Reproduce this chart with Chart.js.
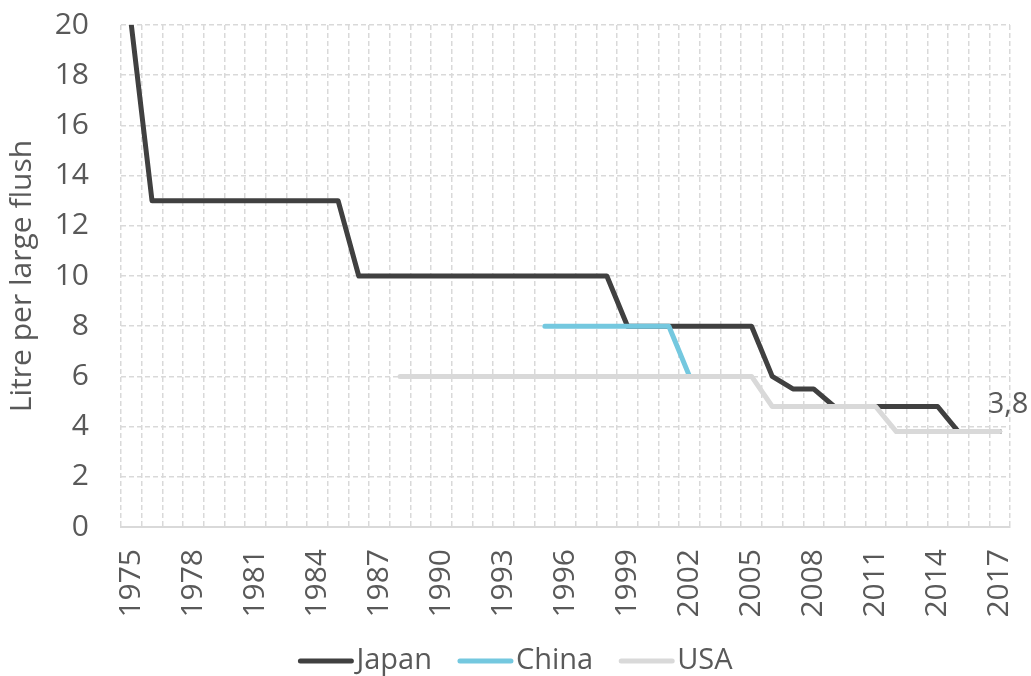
<!DOCTYPE html>
<html>
<head>
<meta charset="utf-8">
<script src="https://cdn.jsdelivr.net/npm/chart.js@4.4.0/dist/chart.umd.min.js"></script>
<style>
  html, body { margin: 0; padding: 0; background: #fff; }
  #wrap { width: 1031px; height: 676px; position: relative; }
</style>
</head>
<body>
<div id="wrap"><canvas id="flushChart"></canvas></div>
<script>
const years = [
  '1975', '1976', '1977', '1978', '1979', '1980', '1981', '1982', '1983', '1984',
  '1985', '1986', '1987', '1988', '1989', '1990', '1991', '1992', '1993', '1994',
  '1995', '1996', '1997', '1998', '1999', '2000', '2001', '2002', '2003', '2004',
  '2005', '2006', '2007', '2008', '2009', '2010', '2011', '2012', '2013', '2014',
  '2015', '2016', '2017'
];
const shownYears = ['1975', '1978', '1981', '1984', '1987', '1990', '1993', '1996',
  '1999', '2002', '2005', '2008', '2011', '2014', '2017'];

const japan = [
  20, 13, 13, 13, 13, 13, 13, 13, 13, 13,
  13, 10, 10, 10, 10, 10, 10, 10, 10, 10,
  10, 10, 10, 10, 8, 8, 8, 8, 8, 8,
  8, 6, 5.5, 5.5, 4.8, 4.8, 4.8, 4.8, 4.8, 4.8,
  3.8, 3.8, 3.8
];
const china = [
  null, null, null, null, null, null, null, null, null, null,
  null, null, null, null, null, null, null, null, null, null,
  8, 8, 8, 8, 8, 8, 8, 6, null, null,
  null, null, null, null, null, null, null, null, null, null,
  null, null, null
];
const usa = [
  null, null, null, null, null, null, null, null, null, null,
  null, null, null, 6, 6, 6, 6, 6, 6, 6,
  6, 6, 6, 6, 6, 6, 6, 6, 6, 6,
  6, 4.8, 4.8, 4.8, 4.8, 4.8, 4.8, 3.8, 3.8, 3.8,
  3.8, 3.8, 3.8
];
const seriesNames = ['Japan', 'China', 'USA'];
const seriesColors = ['#404040', '#74c8df', '#d9d9d9'];
const endLabel = '3,8';

const FONT = "'Open Sans', sans-serif";
const TEXT = '#595959';
const GRID = '#d9d9d9';

// value label next to the last USA point
const endLabelPlugin = {
  id: 'endLabel',
  afterDatasetsDraw(chart) {
    const meta = chart.getDatasetMeta(2);
    const pt = meta.data[meta.data.length - 1];
    const ctx = chart.ctx;
    ctx.save();
    ctx.font = '29px ' + FONT;
    ctx.fillStyle = TEXT;
    ctx.textAlign = 'left';
    ctx.textBaseline = 'middle';
    ctx.fillText(endLabel, pt.x - 12, pt.y - 27);
    ctx.restore();
  }
};

// legend row: short thick line followed closely by the name
const lineLegend = {
  id: 'lineLegend',
  afterDraw(chart) {
    const ctx = chart.ctx;
    ctx.save();
    ctx.font = '29px ' + FONT;
    ctx.textBaseline = 'middle';
    const lineLen = 55, gap = 3, itemGap = 26;
    const widths = seriesNames.map(n => lineLen + gap + ctx.measureText(n).width);
    const total = widths.reduce((a, b) => a + b, 0) + itemGap * (widths.length - 1);
    let x = (chart.width - total) / 2;
    const y = 661;
    seriesNames.forEach((name, i) => {
      ctx.strokeStyle = seriesColors[i];
      ctx.lineWidth = 5;
      ctx.lineCap = 'round';
      ctx.beginPath();
      ctx.moveTo(x + 2, y);
      ctx.lineTo(x + lineLen - 2, y);
      ctx.stroke();
      ctx.fillStyle = TEXT;
      ctx.fillText(name, x + lineLen + gap, y);
      x += widths[i] + itemGap;
    });
    ctx.restore();
  }
};

const mkSet = (i, data, order) => ({
  label: seriesNames[i],
  data: data,
  borderColor: seriesColors[i],
  backgroundColor: seriesColors[i],
  borderWidth: 5,
  borderJoinStyle: 'round',
  borderCapStyle: 'round',
  pointRadius: 0,
  tension: 0,
  spanGaps: false,
  order: order
});

new Chart(document.getElementById('flushChart'), {
  type: 'line',
  data: {
    labels: years,
    datasets: [mkSet(0, japan, 2), mkSet(1, china, 1), mkSet(2, usa, 0)]
  },
  options: {
    responsive: true,
    maintainAspectRatio: false,
    animation: false,
    layout: { padding: { top: 25, right: 21, bottom: 0, left: 0 } },
    plugins: {
      legend: { display: false },
      tooltip: { enabled: false }
    },
    scales: {
      x: {
        offset: true,
        grid: { color: GRID, lineWidth: 1.5, offset: true, drawTicks: false },
        border: { display: true, color: GRID, width: 2, dash: [5, 3] },
        ticks: {
          autoSkip: false,
          maxRotation: 90,
          minRotation: 90,
          padding: 22,
          color: TEXT,
          font: { family: FONT, size: 30 },
          callback: function (v) {
            const lbl = this.getLabelForValue(v);
            return shownYears.includes(lbl) ? lbl : '';
          }
        },
        afterFit(scale) {
          scale.height = 149;
          scale.paddingLeft = 0;
          scale.paddingRight = 0;
        }
      },
      y: {
        min: 0,
        max: 20,
        grid: { color: GRID, lineWidth: 1.5, drawTicks: false },
        border: { display: false, dash: [5, 3] },
        ticks: {
          stepSize: 2,
          padding: 32,
          color: TEXT,
          font: { family: FONT, size: 30 }
        },
        title: {
          display: true,
          text: 'Litre per large flush',
          color: TEXT,
          font: { family: FONT, size: 30 },
          padding: { top: 4, bottom: 0 }
        },
        afterFit(scale) {
          scale.width = 121;
          scale.paddingTop = 0;
          scale.paddingBottom = 0;
        }
      }
    }
  },
  plugins: [endLabelPlugin, lineLegend]
});
</script>
</body>
</html>
